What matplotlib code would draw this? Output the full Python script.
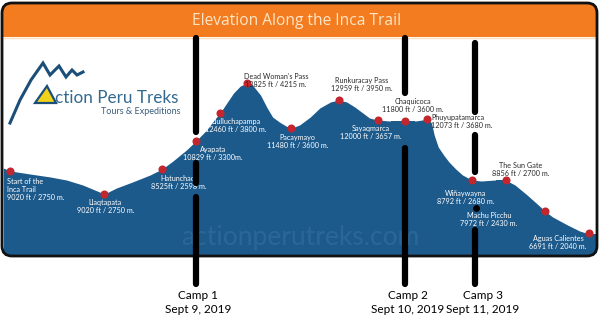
import matplotlib
matplotlib.use("Agg")
import matplotlib.pyplot as plt
from matplotlib.patches import FancyBboxPatch, Rectangle, Polygon
import matplotlib.transforms as mtransforms

# ---- data ----
# trail profile (distance along trail in km, plotted elevation in m)
profile_km = [-0.5, 0.0, 1.5, 3.0, 4.2, 5.4, 6.3, 7.0, 7.9, 9.1, 10.4, 11.3, 12.1, 13.1,
              13.8, 14.6, 15.1, 15.6, 16.1, 16.6, 17.1, 17.6, 18.0, 18.6, 19.1, 19.5,
              20.0, 20.5, 20.9, 21.5, 22.3, 23.0, 23.8, 24.4, 25.0, 25.6, 26.2, 26.7,
              27.3, 28.2, 29.3, 30.1, 30.6, 31.0, 31.3, 31.5, 31.8, 32.2, 32.6, 33.1,
              33.6, 34.3, 35.0, 36.0, 36.8, 37.5, 38.4, 39.4, 39.7, 40.3, 41.4, 42.3,
              43.0, 43.6]
profile_elev = [2983, 2940, 2895, 2852, 2808, 2736, 2663, 2605, 2692, 2780, 2881, 2968, 3084, 3243,
                3374, 3533, 3664, 3780, 3925, 4070, 4171, 4215, 4186, 4041, 3852, 3722,
                3650, 3591, 3562, 3606, 3722, 3852, 3940, 3968, 3940, 3867, 3780, 3707,
                3678, 3664, 3664, 3664, 3678, 3693, 3635, 3461, 3287, 3171, 3069, 2968,
                2881, 2808, 2794, 2808, 2808, 2736, 2591, 2417, 2359, 2272, 2156, 2069,
                2026, 2026]

stations = ["Start of the\nInca Trail", "Llaqtapata", "Hatunchaca", "Ayapata", "Llulluchapampa",
            "Dead Woman's Pass", "Pacaymayo", "Runkuracay Pass", "Sayaqmarca", "Chaquicoca",
            "Phuyupatamarca", "Wiñaywayna", "The Sun Gate", "", "Aguas Calientes"]
heights = ["9020 ft / 2750 m.", "9020 ft / 2750 m.", "8525ft / 2598 m.", "10829 ft / 3300m.",
           "12460 ft / 3800 m.", "13825 ft / 4215 m.", "11480 ft / 3600 m.", "12959 ft / 3950 m.",
           "12000 ft / 3657 m.", "11800 ft / 3600 m.", "12073 ft / 3680 m.", "8792 ft / 2680 m.",
           "8856 ft / 2700 m.", "", "6691 ft / 2040 m."]
station_km = [0.0, 7.0, 11.3, 13.8, 15.6, 17.6, 20.9, 24.4, 27.3, 29.3, 31.0, 34.3, 36.8, 39.7, 43.0]
station_elev = [2940, 2605, 2968, 3374, 3780, 4215, 3562, 3968, 3678, 3664, 3693, 2808, 2808, 2359, 2040]

mp_name = "Machu Picchu"
mp_height = "7972 ft / 2430 m."
mp_km = 34.6
mp_elev = 2402

camps = ["Camp 1\nSept 9, 2019", "Camp 2\nSept 10, 2019", "Camp 3\nSept 11, 2019"]
camp_km = [13.8, 29.3, 34.5]

# ---- styling / layout ----
BLUE = "#1d5a8c"
ORANGE = "#f47c20"
RED = "#c4262e"
DARK = "#2a2a2a"
LFONT = "Lato"

# label offsets (pixels from the dot), alignment, colour
lab_style = [
    ((-3, -7), "left", "white"),
    ((1, -5), "center", "white"),
    ((17, -6), "center", "white"),
    ((17, -5), "center", "white"),
    ((16, -5), "center", "white"),
    ((29, 10), "center", DARK),
    ((6, -6), "center", "white"),
    ((23, 23), "center", DARK),
    ((-7, -5), "center", "white"),
    ((8, 23), "center", DARK),
    ((4, 5), "left", DARK),
    ((-6, -10), "center", "white"),
    ((15, 18), "center", DARK),
    ((0, 0), "center", "white"),
    ((-31, -2), "center", "white"),
]
camp_spans = [[(38, 132), (163, 183), (197, 284)],
              [(38, 93), (148, 284)],
              [(43, 112), (135, 172), (230, 284)]]
camp_lab_dx = [2, 3, 8]

fig = plt.figure(figsize=(6, 3.35), dpi=100)

# background in pixel coordinates
bg = fig.add_axes([0, 0, 1, 1], zorder=0)
bg.set_xlim(0, 600)
bg.set_ylim(335, 0)
bg.axis("off")

card = FancyBboxPatch((2, 3), 595, 253, boxstyle="round,pad=0,rounding_size=10",
                      facecolor="white", edgecolor="none")
bg.add_patch(card)
head = Rectangle((0, 0), 600, 37, facecolor=ORANGE, edgecolor="none")
bg.add_patch(head)
head.set_clip_path(card)
bg.plot([3, 597], [37.5, 37.5], color="#fbe0c0", lw=1)
bg.text(297, 21, "Elevation Along the Inca Trail", color="#fde6c8", fontsize=11.2,
        family="Open Sans", ha="center", va="center")

# logo
bg.plot([10, 20, 31, 43, 50, 59, 66, 72, 77, 83], [123, 100, 80, 63, 75, 66, 77, 70, 75, 72],
        color="#1b4f7a", lw=2.2, solid_joinstyle="miter")
bg.add_patch(Polygon([[35, 103], [47, 86], [56, 103]], closed=True, facecolor="#f2d31b",
                     edgecolor="#1b4f7a", lw=1.6))
bg.text(55, 103, "ction Peru Treks", color="#32698f", fontsize=12.3, family=LFONT,
        ha="left", va="baseline")
bg.text(141, 112, "Tours & Expeditions", color="#3b5d7d", fontsize=6.5, family=LFONT,
        ha="center", va="center")

# profile axes in data coordinates
ax = fig.add_axes([3 / 600, (335 - 254) / 335, 594 / 600, (254 - 38) / 335], zorder=1)
ax.patch.set_alpha(0)
ax.set_xlim(-0.52, 43.59)
ax.set_ylim(2040 - 21 * 14.5, 2040 + 195 * 14.5)
ax.axis("off")

poly = ax.fill_between(profile_km, profile_elev, 0, color=BLUE, lw=0)
poly.set_clip_path(card)
poly.set_clip_box(None)

ax.text(0.5, 0.075, "actionperutreks.com", transform=ax.transAxes, ha="center", va="center",
        fontsize=19, family=LFONT, color="#3a71a3", alpha=0.55)

ax.plot(station_km, station_elev, "o", color=RED, ms=5.8, mec="none", zorder=3)
ax.plot([mp_km], [mp_elev], "o", color="black", ms=5, mec="none", zorder=3)

for i in range(len(stations)):
    if not stations[i]:
        continue
    off, ha, col = lab_style[i]
    ax.annotate(stations[i] + "\n" + heights[i], (station_km[i], station_elev[i]),
                xytext=off, textcoords="offset pixels", ha=ha, va="top", color=col,
                fontsize=5.2, family=LFONT, linespacing=1.15, multialignment=ha, zorder=4)
ax.annotate(mp_name + "\n" + mp_height, (mp_km, mp_elev), xytext=(13, -4),
            textcoords="offset pixels", ha="center", va="top", color="white",
            fontsize=5.2, family=LFONT, linespacing=1.15, zorder=4)

# foreground: card border and camp markers
fg = fig.add_axes([0, 0, 1, 1], zorder=2)
fg.patch.set_alpha(0)
fg.set_xlim(0, 600)
fg.set_ylim(335, 0)
fg.axis("off")
fg.add_patch(FancyBboxPatch((2, 3), 595, 253, boxstyle="round,pad=0,rounding_size=10",
                            facecolor="none", edgecolor="#111111", lw=2))

blend = mtransforms.blended_transform_factory(ax.transData, fg.transData)
for i in range(len(camps)):
    for y0, y1 in camp_spans[i]:
        fg.plot([camp_km[i], camp_km[i]], [y0, y1], color="black", lw=4.5,
                solid_capstyle="round", transform=blend, clip_on=False)
    fg.annotate(camps[i], (camp_km[i], 290), xycoords=blend, xytext=(camp_lab_dx[i], 0),
                textcoords="offset pixels", ha="center", va="top", fontsize=8.5,
                family=LFONT, color="black", linespacing=1.35)

fig.savefig("out.png", dpi=100)
